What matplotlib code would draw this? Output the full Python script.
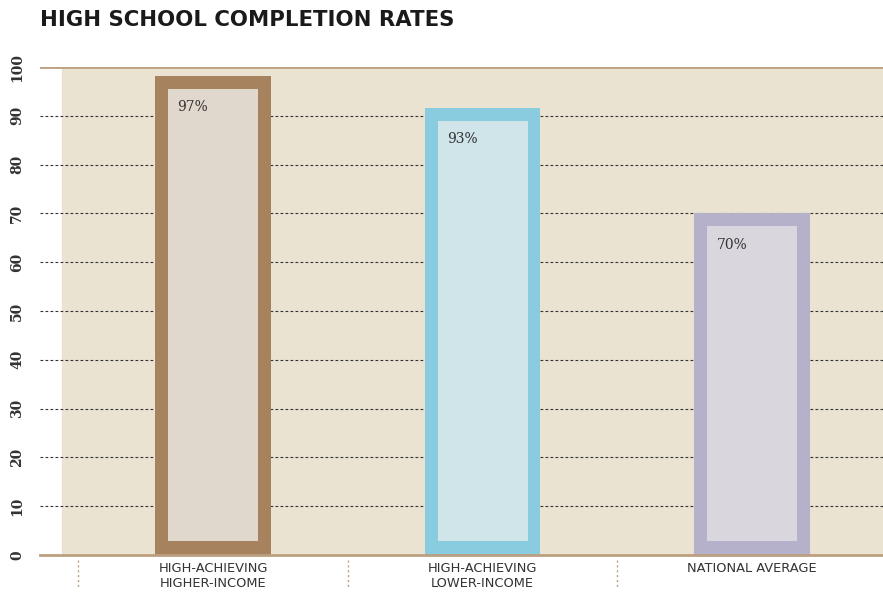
import numpy as np
import matplotlib.pyplot as plt
from matplotlib.patches import Rectangle

categories = ["HIGH-ACHIEVING\nHIGHER-INCOME", "HIGH-ACHIEVING\nLOWER-INCOME", "NATIONAL AVERAGE"]
heights = [98.2, 91.6, 70.0]
labels = ["97%", "93%", "70%"]
yticks = [0, 10, 20, 30, 40, 50, 60, 70, 80, 90, 100]

edge_colors = ["#A6825F", "#89CBDF", "#B5B1CA"]
inner_colors = ["#E0D8CC", "#CFE5E9", "#DAD6DE"]
panel = "#EAE3D2"
tan = "#BC9F80"

fig = plt.figure(figsize=(8.83, 5.93), dpi=100)
ax = fig.add_axes([40 / 883, 1 - 555 / 593, 843 / 883, 488 / 593])
x = np.arange(len(categories))
ax.set_xlim(-0.642, 2.486)
ax.set_ylim(0, 100)
ax.axis("off")

# beige panel
ax.add_patch(Rectangle((-0.56, 0), 3.1, 100, color=panel, zorder=0))

# gridlines
for t in yticks[1:-1]:
    ax.axhline(t, color="#333333", lw=0.8, ls=(0, (2.5, 2)), zorder=1)
ax.axhline(100, color=tan, lw=2, zorder=1)
ax.axhline(0, color=tan, lw=2, zorder=4, clip_on=False)

w = 0.43
inset_x = 0.048
for i, h in enumerate(heights):
    ax.bar(x[i], h, width=w, color=edge_colors[i], zorder=2)
    ax.bar(x[i], h - 2.66 - 2.87, bottom=2.87, width=w - 2 * inset_x,
           color=inner_colors[i], zorder=3)
    ax.text(x[i] - w / 2 + inset_x + 0.035, h - 6.4, labels[i],
            family="DejaVu Serif", fontsize=10, color="#333333",
            ha="left", va="center", zorder=5)

for t in yticks:
    ax.text(-0.642 - 23 / 269.5, t, str(t), rotation=90, family="DejaVu Serif",
            fontsize=10, fontweight="bold", color="#333333",
            ha="center", va="center", clip_on=False)

for i, c in enumerate(categories):
    ax.text(x[i], -1.5, c, ha="center", va="top", fontsize=9.4, color="#333333",
            linespacing=1.15, family="DejaVu Sans", clip_on=False)

for s in [-0.5, 0.5, 1.5]:
    ax.plot([s, s], [-1.0, -6.5], color=tan, lw=1, ls=(0, (1.5, 2)),
            clip_on=False)

fig.text(40 / 883, 1 - 20 / 593, "HIGH SCHOOL COMPLETION RATES", fontsize=15.3,
         fontweight="bold", color="#1a1a1a", ha="left", va="center",
         family="DejaVu Sans")

fig.savefig("out.png", dpi=100)
